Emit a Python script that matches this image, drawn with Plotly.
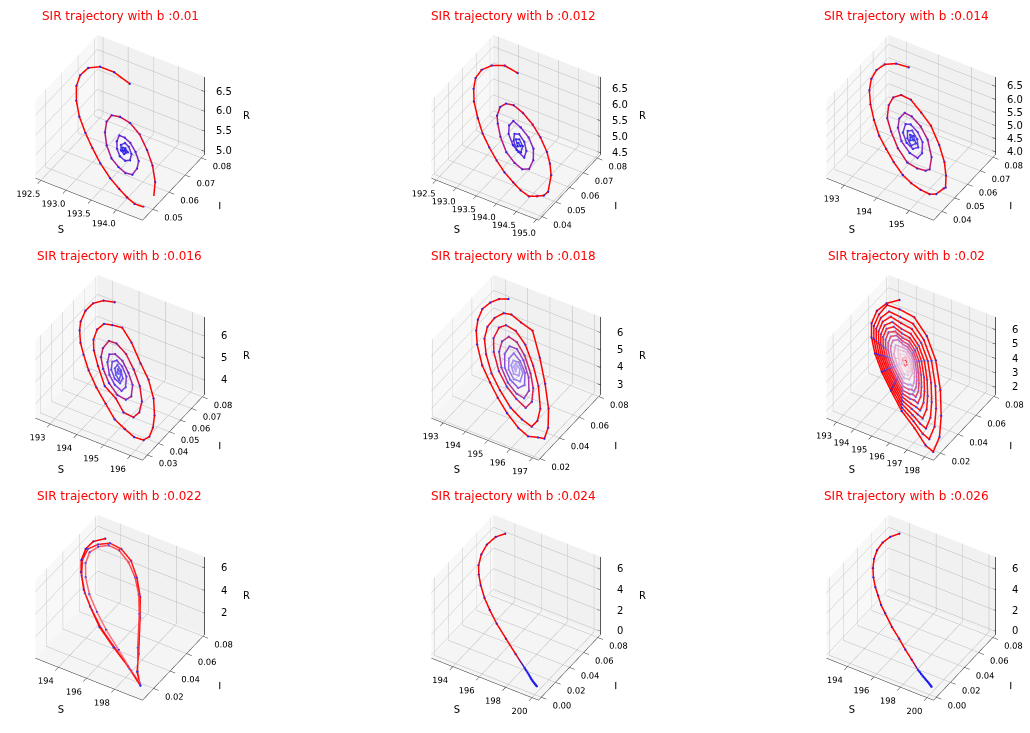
import plotly.graph_objects as go

B_VALUES = ["0.01", "0.012", "0.014", "0.016", "0.018", "0.02", "0.022", "0.024", "0.026"]

S1 = [193.13,192.88,192.70,192.60,192.59,192.65,192.78,192.95,193.15,193.35,193.56,193.78,193.96,194.11,194.24,194.35,194.40,194.37,194.24,194.07,193.88,193.67,193.48,193.33,193.24,193.25,193.33,193.46,193.62,193.76,193.88,193.96,193.95,193.90,193.79,193.66,193.56,193.49,193.52,193.59,193.68,193.77,193.81,193.77,193.68,193.61,193.59,193.64,193.70,193.72,193.66,193.63,193.66,193.69,193.67]
I1 = [.0789,.0770,.0739,.0697,.0651,.0609,.0568,.0534,.0509,.0490,.0474,.0465,.0465,.0467,.0474,.0494,.0513,.0551,.0601,.0638,.0663,.0682,.0682,.0666,.0643,.0609,.0574,.0544,.0524,.0523,.0529,.0547,.0579,.0605,.0620,.0628,.0624,.0613,.0588,.0568,.0557,.0562,.0579,.0601,.0612,.0610,.0592,.0577,.0577,.0594,.0597,.0590,.0582,.0588,.0592]
R1 = [6.14,6.39,6.57,6.67,6.68,6.62,6.49,6.32,6.12,5.92,5.71,5.49,5.31,5.16,5.03,4.92,4.87,4.90,5.03,5.20,5.39,5.60,5.79,5.94,6.03,6.02,5.94,5.81,5.65,5.51,5.39,5.31,5.32,5.37,5.48,5.61,5.71,5.78,5.75,5.68,5.59,5.50,5.46,5.50,5.59,5.66,5.68,5.63,5.57,5.55,5.61,5.64,5.61,5.58,5.60]

S2 = [193.11,192.87,192.71,192.64,192.66,192.76,192.91,193.15,193.38,193.62,193.86,194.09,194.31,194.49,194.66,194.76,194.83,194.84,194.69,194.54,194.37,194.13,193.88,193.63,193.43,193.32,193.29,193.35,193.45,193.63,193.88,194.10,194.27,194.35,194.30,194.17,193.98,193.77,193.61,193.61,193.70,193.88,194.02,194.16,194.11,193.98,193.83,193.77,193.84,193.98,194.06,194.01,193.89,193.85,193.95,193.98,193.92]
I2 = [.0787,.0764,.0716,.0663,.0614,.0571,.0530,.0488,.0456,.0434,.0418,.0408,.0406,.0408,.0418,.0449,.0477,.0505,.0571,.0606,.0634,.0657,.0672,.0675,.0665,.0642,.0609,.0569,.0545,.0512,.0482,.0477,.0484,.0510,.0555,.0594,.0614,.0618,.0611,.0581,.0551,.0530,.0528,.0530,.0560,.0583,.0589,.0573,.0546,.0528,.0535,.0563,.0573,.0560,.0543,.0555,.0558]
R2 = [6.21,6.43,6.57,6.64,6.62,6.53,6.39,6.18,5.96,5.75,5.53,5.32,5.13,4.96,4.81,4.72,4.65,4.64,4.78,4.91,5.06,5.29,5.51,5.73,5.92,6.02,6.05,5.99,5.90,5.73,5.51,5.31,5.16,5.09,5.13,5.25,5.42,5.61,5.76,5.76,5.67,5.51,5.38,5.26,5.30,5.42,5.56,5.61,5.55,5.42,5.35,5.39,5.50,5.54,5.45,5.42,5.47]

S3 = [193.21,192.97,192.81,192.77,192.82,192.95,193.17,193.44,193.74,194.03,194.33,194.65,194.89,195.12,195.32,195.42,195.47,195.47,195.31,195.09,194.77,194.37,194.04,193.70,193.49,193.41,193.45,193.61,193.86,194.20,194.54,194.77,194.93,194.97,194.83,194.52,194.23,193.95,193.80,193.80,193.91,194.15,194.44,194.63,194.63,194.48,194.27,194.05,193.97,194.05,194.25,194.43,194.49,194.36,194.16,194.10,194.20,194.36,194.40,194.26,194.19,194.27,194.32,194.25]
I3 = [.0785,.0747,.0699,.0645,.0592,.0544,.0497,.0456,.0420,.0401,.0384,.0374,.0379,.0393,.0412,.0439,.0485,.0500,.0544,.0587,.0628,.0664,.0672,.0677,.0655,.0614,.0568,.0516,.0483,.0450,.0437,.0456,.0481,.0502,.0553,.0601,.0620,.0620,.0604,.0562,.0524,.0490,.0481,.0494,.0529,.0571,.0587,.0587,.0568,.0527,.0505,.0508,.0534,.0560,.0571,.0551,.0524,.0513,.0539,.0557,.0548,.0527,.0541,.0545]
R3 = [6.18,6.40,6.54,6.58,6.54,6.42,6.23,5.98,5.71,5.45,5.18,4.89,4.67,4.46,4.29,4.20,4.20,4.16,4.30,4.50,4.78,5.14,5.44,5.74,5.93,6.01,5.97,5.82,5.60,5.30,4.99,4.78,4.64,4.60,4.73,5.00,5.27,5.52,5.66,5.66,5.56,5.34,5.08,4.91,4.91,5.04,5.24,5.43,5.50,5.43,5.25,5.09,5.04,5.15,5.33,5.39,5.30,5.15,5.12,5.24,5.30,5.24,5.19,5.25]

S4 = [193.23,193.00,192.86,192.85,192.95,193.08,193.31,193.57,193.93,194.36,194.81,195.24,195.59,195.90,196.12,196.17,196.08,195.90,195.59,195.18,194.76,194.23,193.81,193.58,193.41,193.38,193.49,193.68,194.03,194.49,194.90,195.28,195.55,195.57,195.43,195.13,194.73,194.33,193.97,193.79,193.81,193.93,194.17,194.52,194.87,195.11,195.15,194.98,194.70,194.38,194.13,194.03,194.13,194.38,194.65,194.88,194.89,194.72,194.47,194.27,194.21,194.33,194.55,194.72,194.69,194.52,194.36,194.37,194.50,194.65,194.57,194.44,194.48,194.53]
I4 = [.0785,.0740,.0679,.0613,.0545,.0504,.0456,.0421,.0379,.0344,.0319,.0296,.0303,.0312,.0344,.0385,.0440,.0498,.0565,.0619,.0651,.0696,.0714,.0679,.0645,.0590,.0530,.0487,.0440,.0389,.0389,.0367,.0392,.0440,.0498,.0552,.0594,.0622,.0622,.0597,.0538,.0491,.0453,.0421,.0411,.0430,.0469,.0523,.0554,.0577,.0571,.0543,.0501,.0458,.0441,.0447,.0481,.0530,.0552,.0552,.0526,.0487,.0466,.0472,.0504,.0530,.0536,.0510,.0488,.0481,.0517,.0520,.0504,.0504]
R4 = [6.20,6.40,6.53,6.54,6.45,6.33,6.13,5.90,5.58,5.20,4.80,4.42,4.11,3.84,3.64,3.60,3.68,3.84,4.11,4.48,4.84,5.31,5.69,5.89,6.04,6.06,5.97,5.80,5.50,5.08,4.72,4.38,4.15,4.13,4.25,4.52,4.87,5.23,5.54,5.70,5.69,5.58,5.37,5.06,4.74,4.54,4.50,4.65,4.90,5.18,5.40,5.49,5.40,5.18,4.94,4.74,4.73,4.88,5.10,5.28,5.33,5.23,5.03,4.88,4.91,5.06,5.20,5.19,5.07,4.94,5.01,5.13,5.09,5.05]

S5 = [193.29,193.09,192.97,192.93,193.06,193.24,193.55,194.09,194.61,195.10,195.61,196.16,196.55,196.79,196.95,196.81,196.43,195.84,195.19,194.47,194.05,193.68,193.48,193.38,193.41,193.59,193.95,194.46,194.99,195.58,196.07,196.43,196.43,196.25,195.74,195.21,194.60,194.11,193.78,193.68,193.78,194.07,194.57,195.06,195.52,195.91,195.92,195.67,195.31,194.81,194.37,194.08,194.03,194.18,194.55,195.00,195.42,195.68,195.63,195.35,194.88,194.51,194.29,194.34,194.63,194.99,195.34,195.42,195.17,194.82,194.53,194.53,194.75,195.06,195.25,195.13,194.82,194.67,194.72,194.95,195.10,194.99,194.78,194.80,194.94,194.87,194.80,194.87]
I5 = [.0784,.0734,.0673,.0601,.0526,.0468,.0407,.0335,.0296,.0264,.0242,.0231,.0242,.0289,.0318,.0388,.0479,.0579,.0673,.0763,.0741,.0727,.0693,.0623,.0544,.0472,.0407,.0346,.0311,.0285,.0289,.0307,.0365,.0436,.0533,.0601,.0659,.0673,.0648,.0601,.0522,.0458,.0396,.0364,.0357,.0364,.0425,.0496,.0551,.0604,.0626,.0609,.0551,.0487,.0426,.0389,.0382,.0400,.0461,.0522,.0576,.0594,.0569,.0508,.0443,.0415,.0418,.0464,.0526,.0555,.0558,.0508,.0454,.0436,.0458,.0515,.0541,.0522,.0487,.0461,.0479,.0515,.0522,.0494,.0483,.0518,.0507,.0500]
R5 = [6.14,6.33,6.43,6.47,6.36,6.18,5.89,5.40,4.92,4.47,3.98,3.48,3.12,2.90,2.74,2.88,3.23,3.77,4.38,5.04,5.43,5.78,5.96,6.05,6.03,5.86,5.53,5.06,4.57,4.02,3.57,3.23,3.22,3.40,3.87,4.36,4.92,5.38,5.69,5.78,5.69,5.42,4.95,4.50,4.07,3.71,3.70,3.93,4.27,4.73,5.14,5.41,5.46,5.32,4.97,4.55,4.17,3.93,3.97,4.23,4.66,5.01,5.21,5.16,4.89,4.56,4.24,4.17,4.39,4.72,4.99,4.99,4.79,4.50,4.33,4.43,4.72,4.86,4.82,4.60,4.47,4.57,4.75,4.74,4.61,4.67,4.73,4.67]

S6 = [193.38,193.11,193.04,193.22,193.59,194.10,194.77,195.51,196.34,197.14,197.89,198.27,198.06,197.56,196.86,195.96,195.08,194.24,193.63,
      193.17,193.19,193.35,193.70,194.17,194.80,195.48,196.26,196.93,197.51,197.83,197.65,197.22,196.62,195.85,195.09,194.37,193.84,
      193.39,193.33,193.49,193.81,194.25,194.82,195.46,196.17,196.74,197.18,197.46,197.30,196.93,196.41,195.75,195.10,194.47,194.02,
      193.58,193.48,193.62,193.92,194.32,194.85,195.43,196.09,196.56,196.87,197.11,196.98,196.66,196.22,195.66,195.10,194.57,194.19,
      193.76,193.63,193.76,194.02,194.39,194.87,195.41,196.00,196.40,196.63,196.83,196.72,196.45,196.07,195.58,195.11,194.65,194.32,
      193.92,193.77,193.89,194.13,194.46,194.90,195.38,195.92,196.25,196.41,196.58,196.48,196.25,195.93,195.52,195.11,194.73,194.45,
      194.08,193.92,194.03,194.24,194.54,194.93,195.35,195.84,196.11,196.21,196.36,196.28,196.08,195.81,195.46,195.12,194.79,194.55,
      194.23,194.09,194.18,194.36,194.62,194.95,195.33,195.74,195.97,196.05,196.17,196.10,195.94,195.71,195.41,195.12,194.84,194.64,
      194.37,194.26,194.33,194.49,194.70,194.98,195.30,195.64,195.83,195.88,195.99,195.93,195.79,195.60,195.36,195.12,194.90,194.73,
      194.45,194.63,195.02,195.54,195.72,195.65,195.50,195.31,194.95,194.82,
      194.64,195.05,195.43,195.58,195.53,195.27,195.00,
      194.82,195.08,195.44,195.41,195.04,
      194.99,195.12,195.28,195.26,195.10,195.14]
I6 = [.0753,.0663,.0568,.0473,.0400,.0337,.0282,.0239,.0195,.0181,.0156,.0167,.0278,.0396,.0525,.0651,.0725,.0750,.0706,
      .0657,.0561,.0473,.0405,.0346,.0295,.0255,.0214,.0211,.0199,.0209,.0304,.0406,.0517,.0625,.0689,.0710,.0672,
      .0635,.0554,.0472,.0409,.0355,.0308,.0271,.0233,.0238,.0237,.0245,.0327,.0414,.0510,.0603,.0658,.0676,.0644,
      .0618,.0547,.0472,.0414,.0364,.0321,.0287,.0252,.0264,.0271,.0278,.0348,.0422,.0503,.0583,.0629,.0645,.0617,
      .0600,.0539,.0471,.0418,.0373,.0334,.0303,.0271,.0286,.0299,.0305,.0364,.0428,.0498,.0566,.0606,.0619,.0596,
      .0584,.0532,.0471,.0423,.0382,.0346,.0318,.0290,.0308,.0323,.0328,.0380,.0434,.0493,.0551,.0585,.0597,.0576,
      .0568,.0525,.0470,.0428,.0391,.0359,.0334,.0309,.0328,.0345,.0349,.0393,.0439,.0489,.0538,.0567,.0577,.0560,
      .0555,.0517,.0470,.0433,.0401,.0374,.0352,.0330,.0348,.0364,.0367,.0404,.0443,.0485,.0527,.0551,.0560,.0545,
      .0541,.0509,.0469,.0438,.0412,.0389,.0371,.0352,.0368,.0382,.0385,.0415,.0447,.0482,.0516,.0536,.0543,.0531,
      .0500,.0444,.0405,.0377,.0401,.0451,.0478,.0505,.0526,.0516,
      .0490,.0422,.0401,.0416,.0455,.0496,.0511,
      .0481,.0438,.0432,.0458,.0497,
      .0473,.0452,.0449,.0470,.0480,.0466]
R6 = [6.05,6.28,6.35,6.19,5.86,5.41,4.81,4.15,3.42,2.71,2.04,1.70,1.89,2.34,2.96,3.76,4.53,5.28,5.83,
      6.23,6.21,6.07,5.76,5.34,4.78,4.18,3.49,2.89,2.38,2.09,2.25,2.63,3.17,3.85,4.52,5.16,5.63,
      6.03,6.09,5.95,5.66,5.27,4.76,4.20,3.57,3.06,2.67,2.42,2.56,2.89,3.35,3.94,4.52,5.07,5.47,
      5.87,5.95,5.83,5.56,5.21,4.74,4.22,3.64,3.22,2.94,2.73,2.85,3.13,3.52,4.02,4.52,4.99,5.32,
      5.71,5.82,5.71,5.47,5.15,4.72,4.24,3.72,3.36,3.16,2.98,3.08,3.32,3.65,4.09,4.51,4.91,5.21,
      5.56,5.69,5.59,5.37,5.08,4.69,4.27,3.79,3.49,3.36,3.20,3.29,3.49,3.78,4.14,4.50,4.85,5.10,
      5.42,5.56,5.47,5.28,5.01,4.67,4.29,3.86,3.62,3.53,3.40,3.47,3.64,3.89,4.20,4.50,4.79,5.00,
      5.29,5.41,5.33,5.17,4.94,4.64,4.31,3.95,3.74,3.67,3.57,3.63,3.77,3.98,4.24,4.50,4.74,4.92,
      5.16,5.26,5.20,5.06,4.87,4.62,4.34,4.03,3.87,3.82,3.73,3.78,3.90,4.07,4.28,4.49,4.69,4.84,
      5.09,4.93,4.59,4.13,3.97,4.03,4.16,4.33,4.65,4.76,
      4.93,4.56,4.22,4.09,4.14,4.36,4.61,
      4.76,4.53,4.21,4.24,4.57,
      4.61,4.50,4.34,4.36,4.51,4.48]

S7 = [193.40,193.08,193.06,193.28,193.66,194.33,195.12,196.11,197.26,198.39,199.45,198.88,198.35,197.21,196.53,195.79,195.02,194.30,193.71,193.34,193.14,193.31,193.80,194.48,195.28,196.20,197.35,198.52,199.39,198.90,198.11,197.06,196.40,195.72,194.99,194.26,193.73,193.42,193.31,193.53,193.99,194.68,195.52,196.43,197.53,198.64,199.30]
I7 = [.0735,.0645,.0556,.0465,.0397,.0316,.0261,.0205,.0180,.0163,.0133,.0189,.0299,.0510,.0628,.0714,.0773,.0778,.0739,.0658,.0569,.0474,.0381,.0304,.0253,.0210,.0184,.0159,.0137,.0193,.0329,.0526,.0632,.0704,.0748,.0756,.0717,.0645,.0560,.0474,.0397,.0325,.0274,.0231,.0197,.0159,.0146]
R7 = [6.05,6.34,6.36,6.17,5.82,5.21,4.50,3.61,2.57,1.55,.60,1.11,1.59,2.62,3.23,3.90,4.59,5.24,5.77,6.10,6.29,6.14,5.69,5.07,4.36,3.53,2.49,1.44,.65,1.09,1.80,2.75,3.34,3.96,4.62,5.28,5.76,6.03,6.14,5.94,5.52,4.90,4.14,3.32,2.33,1.33,.73]

S8 = [193.46,193.22,193.17,193.31,193.58,193.92,194.36,194.94,195.55,196.29,197.16,198.04,198.87,199.00,199.12,199.23,199.33,199.42,199.50,199.58,199.66,199.73,199.80,199.86,199.90,199.95]
I8 = [.0800,.0711,.0596,.0492,.0403,.0343,.0288,.0233,.0193,.0154,.0124,.0094,.0069,.0065,.0061,.0057,.0053,.0049,.0046,.0044,.0042,.0041,.0040,.0039,.0038,.0038]
R8 = [6.20,6.41,6.47,6.34,6.08,5.77,5.36,4.83,4.27,3.59,2.78,1.97,1.20,1.08,.97,.87,.77,.69,.61,.54,.47,.41,.35,.29,.25,.22]

S9 = [193.45,193.23,193.15,193.21,193.40,193.69,194.02,194.43,194.83,195.27,195.70,196.44,197.11,197.70,198.29,198.90,199.02,199.13,199.24,199.33,199.42,199.50,199.60,199.68,199.75,199.81,199.87,199.91,199.95]
I9 = [.0796,.0708,.0616,.0527,.0448,.0378,.0323,.0273,.0238,.0198,.0174,.0134,.0110,.0084,.0065,.0044,.0043,.0042,.0041,.0040,.0039,.0038,.0037,.0036,.0036,.0035,.0035,.0034,.0034]
R9 = [6.22,6.43,6.50,6.45,6.27,6.01,5.70,5.32,4.95,4.55,4.15,3.46,2.84,2.30,1.75,1.18,1.07,.96,.85,.77,.70,.62,.55,.48,.42,.35,.29,.24,.20]

S_TICKS = [[192.5,193.0,193.5,194.0],[192.5,193.0,193.5,194.0,194.5,195.0],[193,194,195],[193,194,195,196],[193,194,195,196,197],[193,194,195,196,197,198],[194,196,198],[194,196,198,200],[194,196,198,200]]
I_TICKS = [[.05,.06,.07,.08],[.04,.05,.06,.07,.08],[.04,.05,.06,.07,.08],[.03,.04,.05,.06,.07,.08],[.02,.04,.06,.08],[.02,.04,.06,.08],[.02,.04,.06,.08],[0,.02,.04,.06,.08],[0,.02,.04,.06,.08]]
R_TICKS = [[5,5.5,6,6.5],[4.5,5,5.5,6,6.5],[4,4.5,5,5.5,6,6.5],[4,5,6],[3,4,5,6],[2,3,4,5,6],[2,4,6],[0,2,4,6],[0,2,4,6]]
S_FMT = [".1f",".1f","d","d","d","d","d","d","d"]
I_FMT = [".2f"]*9
R_FMT = [".1f",".1f",".1f","d","d","d","d","d","d"]
S_LIM = [(192.39,194.52),(192.38,195.05),(192.45,195.75),(192.45,196.45),(192.47,197.27),(192.42,198.50),(192.35,200.0),(192.37,200.5),(192.4,200.5)]
I_LIM = [(.0436,.082),(.0375,.0825),(.0335,.082),(.0255,.082),(.0185,.082),(.0125,.082),(.0065,.082),(-.004,.084),(-.004,.084)]
R_LIM = [(4.92,6.87),(4.45,6.87),(3.9,6.87),(3.35,6.89),(2.45,6.9),(1.5,6.9),(.1,7.0),(-.3,7.2),(-.3,7.2)]

FADE = [
    [(0,"#ff0000"),(.3,"#ff0000"),(.62,"#8a28c8"),(1,"#3a3ae6")],
    [(0,"#ff0000"),(.35,"#ff0000"),(.65,"#8a28c8"),(1,"#3a3ae6")],
    [(0,"#ff0000"),(.35,"#ff0000"),(.7,"#8030d8"),(1,"#4a4ae6")],
    [(0,"#ff0000"),(.4,"#ff0000"),(.75,"#8038dc"),(1,"#6a60ee")],
    [(0,"#ff0000"),(.4,"#ff0000"),(.75,"#8a50dc"),(1,"#c0b8f8")],
    [(0,"#ff0000"),(.45,"#ff1010"),(.75,"#d060a0"),(.96,"#fbdde4"),(1,"#f02020")],
    [(0,"#ff0000"),(.5,"#ff2020"),(1,"#ff7a8c")],
    [(0,"#ff0000"),(.46,"#ff0000"),(.48,"#1818f0"),(1,"#1818f0")],
    [(0,"#ff0000"),(.52,"#ff0000"),(.54,"#1818f0"),(1,"#1818f0")],
]
DOT_FADE = [
    [(0,"#2020f0"),(1,"#2020f0")],
    [(0,"#2020f0"),(1,"#2020f0")],
    [(0,"#2020f0"),(1,"#3030f0")],
    [(0,"#2020f0"),(.6,"#3030f0"),(1,"#6a60ee")],
    [(0,"#2020f0"),(.6,"#4040f0"),(1,"#c0b8f8")],
    [(0,"#2020f0"),(.55,"#6060f0"),(1,"#f0d8f0")],
    [(0,"#2020f0"),(.6,"#5050f0"),(1,"#2020f0")],
    [(0,"#2020f0"),(1,"#2020f0")],
    [(0,"#2020f0"),(1,"#2020f0")],
]

def hex_rgb(h):
    return tuple(int(h[i:i+2], 16) for i in (1, 3, 5))

def vertex_colours(n, stops):
    out = []
    for k in range(n):
        f = k / max(n - 1, 1)
        for (a, ca), (b, cb) in zip(stops, stops[1:]):
            if f <= b:
                t = (f - a) / (b - a)
                ra, rb = hex_rgb(ca), hex_rgb(cb)
                out.append("rgb(%d,%d,%d)" % tuple(ra[j] + (rb[j] - ra[j]) * t for j in range(3)))
                break
    return out

SERIES = [(S1,I1,R1),(S2,I2,R2),(S3,I3,R3),(S4,I4,R4),(S5,I5,R5),(S6,I6,R6),(S7,I7,R7),(S8,I8,R8),(S9,I9,R9)]

W, H = 1030, 733
CX = [120, 516, 911]
TITLE_X = [[120,513,906],[119,513,906],[119,513,906]]
CY = [127, 367, 607]
DW, DH = 236, 239
EYE = 1.6
FONT = "DejaVu Sans"

def ax(title, lim, ticks, fmt, bg, show=True):
    d = dict(title=dict(text=title if show else "", font=dict(size=10, color="black", family=FONT)),
             range=list(lim), autorange=False, tickmode="array", tickvals=ticks,
             ticktext=[format(v, fmt) for v in ticks], tickangle=0,
             tickfont=dict(size=10, color="black", family=FONT),
             showbackground=True, backgroundcolor=bg, gridcolor="#b8b8b8", gridwidth=1,
             showline=show, linecolor="#222222", linewidth=1, zeroline=False,
             ticks="outside" if show else "", ticklen=6, tickcolor="#222222", showspikes=False,
             showticklabels=show)
    return d

fig = go.Figure()
layout = {}
ann = []
for k, (Sv, Iv, Rv) in enumerate(SERIES):
    r, c = k // 3, k % 3
    name = "scene" if k == 0 else f"scene{k+1}"
    fig.add_trace(go.Scatter3d(x=Sv, y=Iv, z=Rv, mode="lines", scene=name, showlegend=False,
                               line=dict(color=vertex_colours(len(Sv), FADE[k]), width=3)))
    fig.add_trace(go.Scatter3d(x=Sv, y=Iv, z=Rv, mode="markers", scene=name, showlegend=False,
                               marker=dict(color=vertex_colours(len(Sv), DOT_FADE[k]), size=1.4, line=dict(width=0))))
    # R axis on the right-hand vertical edge, as in the reference
    sm, im = S_LIM[k][1], I_LIM[k][1]
    rl = R_LIM[k]
    ex, ey, ez = [sm, sm], [im, im], list(rl)
    dS = (S_LIM[k][1] - S_LIM[k][0]) * .03
    for t in R_TICKS[k]:
        ex += [None, sm, sm - dS]; ey += [None, im, im]; ez += [None, t, t]
    fig.add_trace(go.Scatter3d(x=ex, y=ey, z=ez, mode="lines", scene=name, showlegend=False,
                               line=dict(color="#222222", width=1.5)))
    sa = [dict(x=sm, y=im, z=t, text=format(t, R_FMT[k]), showarrow=False, xanchor="center", yanchor="middle",
               xshift=19, font=dict(size=10, color="black", family=FONT)) for t in R_TICKS[k]]
    sa.append(dict(x=sm, y=im, z=(rl[0]+rl[1])/2, text="R", showarrow=False, xanchor="center", yanchor="middle",
                   xshift=42, font=dict(size=10, color="black", family=FONT)))
    layout[name] = dict(
        domain=dict(x=[max(0,(CX[c]-DW/2)/W), min(1,(CX[c]+DW/2)/W)], y=[max(0,1-(CY[r]+DH/2)/H), min(1,1-(CY[r]-DH/2)/H)]),
        xaxis=ax("S", S_LIM[k], S_TICKS[k], S_FMT[k], "#f8f8f8"),
        yaxis=ax("I", I_LIM[k], I_TICKS[k], I_FMT[k], "#f1f1f1"),
        zaxis=ax("R", R_LIM[k], R_TICKS[k], R_FMT[k], "#f5f5f5", show=False),
        aspectmode="manual", aspectratio=dict(x=1.05, y=1, z=.85),
        annotations=sa,
        camera=dict(eye=dict(x=.42*EYE, y=-.69*EYE, z=.68*EYE), center=dict(x=0, y=0, z=0),
                    up=dict(x=0, y=0, z=1), projection=dict(type="orthographic")),
    )
    ann.append(dict(text=f"SIR trajectory with b :{B_VALUES[k]}", x=TITLE_X[r][c]/W, y=1-(CY[r]-111)/H,
                    xref="paper", yref="paper", showarrow=False, xanchor="center", yanchor="middle",
                    font=dict(size=12, color="red", family=FONT)))

fig.update_layout(width=W, height=H, margin=dict(l=0, r=0, t=0, b=0), paper_bgcolor="white",
                  annotations=ann, **layout)
fig.write_html("out.html", post_script="document.body.style.margin='0';", config={"displayModeBar": False})
